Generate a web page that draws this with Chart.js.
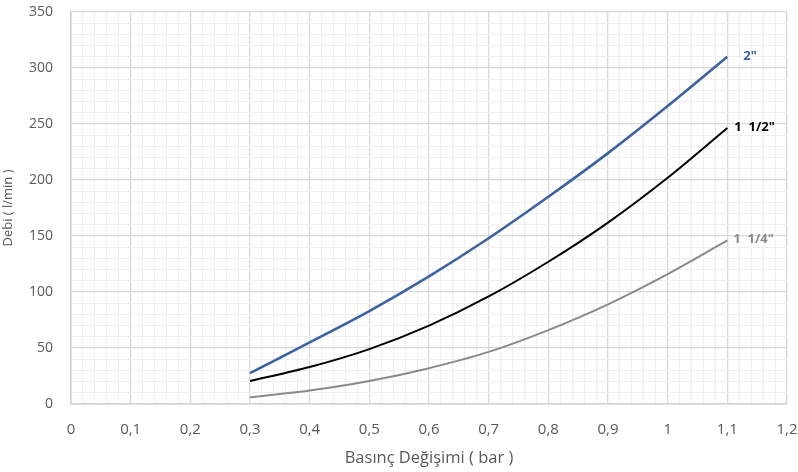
<!DOCTYPE html>
<html>
<head>
<meta charset="utf-8">
<script src="https://cdn.jsdelivr.net/npm/chart.js@4"></script>
<style>
  html, body { margin: 0; padding: 0; background: #fff; }
  #wrap { width: 798px; height: 472px; }
</style>
</head>
<body>
<div id="wrap"><canvas id="myChart"></canvas></div>
<script>
// pressure values (bar)
var pressures = [0.3, 0.4, 0.5, 0.6, 0.7, 0.8, 0.9, 1.0, 1.1];
// flow values (l/min) for each pipe size
var flow2 = [27.5, 55, 83, 114, 148, 185, 224, 266, 310];
var flow112 = [20.5, 33, 49, 70, 96, 127, 162, 202, 246.5];
var flow114 = [6, 12, 20.5, 32, 46.5, 66, 89, 116, 146];
var seriesNames = ['2"', '1  1/2"', '1  1/4"'];
var seriesColors = ["#3a62a6", "#000000", "#8a8a8a"];

function toPoints(values) {
  var pts = [];
  for (var i = 0; i < pressures.length; i++) {
    pts.push({ x: pressures[i], y: values[i] });
  }
  return pts;
}

function isMultiple(v, step) {
  var r = v / step;
  return Math.abs(r - Math.round(r)) < 1e-6;
}

// no extra room for the outer tick labels
function fixAxis(s, size) {
  if (s.isHorizontal()) s.height = size; else s.width = size;
  s.paddingLeft = 0;
  s.paddingRight = 0;
  s.paddingTop = 0;
  s.paddingBottom = 0;
}

// draws the name of each series next to its last point
var endLabels = {
  id: "endLabels",
  afterDatasetsDraw: function (chart) {
    var c = chart.ctx;
    var offsets = [16, 7, 6];
    c.save();
    c.font = "bold 13px 'Open Sans', sans-serif";
    c.textBaseline = "middle";
    chart.data.datasets.forEach(function (ds, i) {
      var last = ds.data[ds.data.length - 1];
      var px = chart.scales.x.getPixelForValue(last.x);
      var py = chart.scales.y.getPixelForValue(last.y);
      c.fillStyle = seriesColors[i];
      c.fillText(seriesNames[i], px + offsets[i], py - 1);
    });
    c.restore();
  }
};

var ctx = document.getElementById("myChart").getContext("2d");
var myChart = new Chart(ctx, {
  type: "line",
  data: {
    datasets: [
      { label: seriesNames[0], data: toPoints(flow2), borderColor: seriesColors[0], borderWidth: 2.6 },
      { label: seriesNames[1], data: toPoints(flow112), borderColor: seriesColors[1], borderWidth: 2 },
      { label: seriesNames[2], data: toPoints(flow114), borderColor: seriesColors[2], borderWidth: 2 }
    ]
  },
  options: {
    responsive: true,
    maintainAspectRatio: false,
    animation: false,
    layout: { padding: { top: 12, right: 11, left: 0, bottom: 0 } },
    elements: {
      point: { radius: 0 },
      line: { tension: 0.3, fill: false }
    },
    plugins: { legend: { display: false }, tooltip: { enabled: false } },
    scales: {
      x: {
        type: "linear",
        min: 0,
        max: 1.2,
        afterFit: function (s) { fixAxis(s, 68); },
        border: { color: "#d0d0d0", width: 1.5 },
        grid: {
          drawTicks: false,
          color: function (c) { return isMultiple(c.tick.value, 0.1) ? "#d9d9d9" : "#efefef"; },
          lineWidth: function (c) { return isMultiple(c.tick.value, 0.1) ? 1.3 : 1; }
        },
        ticks: {
          stepSize: 0.02,
          autoSkip: false,
          maxRotation: 0,
          padding: 17,
          color: "#595959",
          font: { family: "'Open Sans', sans-serif", size: 15 },
          callback: function (v) {
            if (!isMultiple(v, 0.1)) return "";
            return String(Math.round(v * 10) / 10).replace(".", ",");
          }
        },
        title: {
          display: true,
          text: "Basınç Değişimi ( bar )",
          color: "#595959",
          font: { family: "'Open Sans', sans-serif", size: 16.5 },
          padding: { top: 3 }
        }
      },
      y: {
        min: 0,
        max: 350,
        afterFit: function (s) { fixAxis(s, 71); },
        border: { color: "#d0d0d0", width: 1.5 },
        grid: {
          drawTicks: false,
          color: function (c) { return isMultiple(c.tick.value, 50) ? "#d9d9d9" : "#efefef"; },
          lineWidth: function (c) { return isMultiple(c.tick.value, 50) ? 1.3 : 1; }
        },
        ticks: {
          stepSize: 10,
          autoSkip: false,
          padding: 18,
          color: "#595959",
          font: { family: "'Open Sans', sans-serif", size: 14 },
          callback: function (v) { return isMultiple(v, 50) ? String(v) : ""; }
        },
        title: {
          display: true,
          text: "Debi ( l/min )",
          color: "#595959",
          font: { family: "'Open Sans', sans-serif", size: 13 },
          padding: { top: 0, bottom: 1 }
        }
      }
    }
  },
  plugins: [endLabels]
});
</script>
</body>
</html>
